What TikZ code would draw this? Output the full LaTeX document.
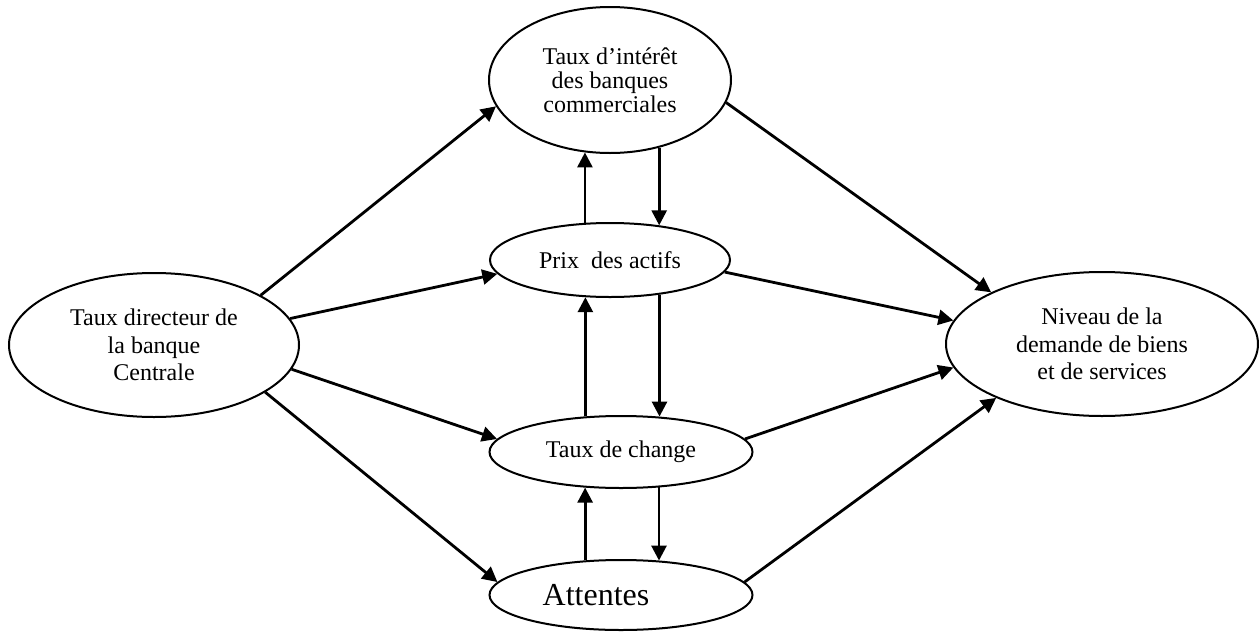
\documentclass[tikz,border=0pt]{standalone}
\usepackage{fontspec}
\setmainfont{Liberation Serif}
\usetikzlibrary{shapes.geometric,arrows.meta}
\begin{document}
\begin{tikzpicture}[x=0.5pt,y=-0.5pt,
  ell/.style={ellipse, draw, line width=1pt, inner sep=0pt, align=center,
    font=\fontsize{12}{13.75}\selectfont},
  arr/.style={line width=1.4pt, -{Triangle[length=7.5pt,width=7.5pt]}}]
\useasboundingbox (0,0) rectangle (1259,632);
\node[ell, minimum width=145pt, minimum height=72pt] (L) at (154,345)
  {Taux directeur de\\la banque\\Centrale};
\node[ell, minimum width=121pt, minimum height=73pt,
  font=\fontsize{12}{12}\selectfont] (T) at (610,80)
  {Taux d’intérêt\\des banques\\commerciales};
\node[ell, minimum width=120pt, minimum height=37pt] (P) at (610,260)
  {Prix\ \ des actifs};
\node[ell, minimum width=131.5pt, minimum height=36pt] (C) at (621,452)
  {Taux de change};
\node[ell, minimum width=131.5pt, minimum height=35pt,
  font=\fontsize{16}{18}\selectfont] (A) at (621,595)
  {Attentes\hspace*{25pt}};
\node[ell, minimum width=156pt, minimum height=72pt] (R) at (1102,344)
  {Niveau de la\\demande de biens\\et de services};
% diagonal arrows
\draw[arr] (L.25) -- (T.193);
\draw[arr] (L.11) -- (P.187);
\draw[arr] (L.350) -- (C.174);
\draw[arr] (L.337) -- (A.174);
\draw[arr] (T.349) -- (R.155);
\draw[arr] (P.354) -- (R.171);
\draw[arr] (C.6) -- (R.189);
\draw[arr] (A.6) -- (R.207);
% vertical arrows
\draw[arr] (P.124) -- (P.124 |- T.251);
\draw[arr] (T.306) -- (T.306 |- P.35);
\draw[arr] (C.135) -- (C.135 |- P.237);
\draw[arr] (P.325) -- (P.325 |- C.43);
\draw[arr] (A.136) -- (A.136 |- C.225);
\draw[arr] (C.317) -- (C.317 |- A.42);
\end{tikzpicture}
\end{document}
